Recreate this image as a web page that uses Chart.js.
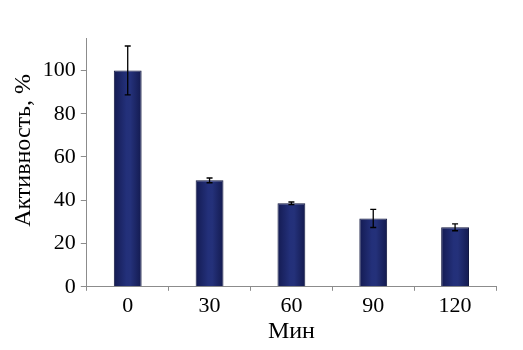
<!DOCTYPE html>
<html>
<head>
<meta charset="utf-8">
<script src="https://cdn.jsdelivr.net/npm/chart.js@4"></script>
<style>
  body { margin: 0; background: #fff; }
  #wrap { width: 523px; height: 350px; }
</style>
</head>
<body>
<div id="wrap"><canvas id="myChart"></canvas></div>
<script>
const minutes = ['0', '30', '60', '90', '120'];
const activity = [100, 49.2, 38.6, 31.6, 27.5];
const errors = [11.3, 1.1, 0.6, 4.2, 1.6];
const yTicks = [0, 20, 40, 60, 80, 100];

const BAR_PCT = 0.34;
const FONT = "'Liberation Serif', 'Times New Roman', serif";

// error bars drawn on top of the bars
const errorBars = {
    id: 'errorBars',
    afterDatasetsDraw(chart) {
        const ctx = chart.ctx;
        const y = chart.scales.y;
        const meta = chart.getDatasetMeta(0);
        ctx.save();
        ctx.strokeStyle = '#000';
        ctx.lineWidth = 1.3;
        meta.data.forEach((bar, i) => {
            const top = y.getPixelForValue(activity[i] + errors[i]);
            const bot = y.getPixelForValue(activity[i] - errors[i]);
            ctx.beginPath();
            ctx.moveTo(bar.x, top);
            ctx.lineTo(bar.x, bot);
            ctx.moveTo(bar.x - 3, top);
            ctx.lineTo(bar.x + 3, top);
            ctx.moveTo(bar.x - 3, bot);
            ctx.lineTo(bar.x + 3, bot);
            ctx.stroke();
        });
        ctx.restore();
    }
};

function barFill(context) {
    const chart = context.chart;
    const x = chart.scales.x;
    if (!x || !x.width) return '#1f2969';
    const cx = x.getPixelForValue(context.dataIndex);
    const w = x.width / minutes.length * BAR_PCT;
    const g = chart.ctx.createLinearGradient(cx - w / 2, 0, cx + w / 2, 0);
    g.addColorStop(0, '#141b52');
    g.addColorStop(0.45, '#23307a');
    g.addColorStop(0.6, '#24317a');
    g.addColorStop(1, '#131a4f');
    return g;
}

function draw() {
    const ctx = document.getElementById('myChart');
    new Chart(ctx, {
        type: 'bar',
        data: {
            labels: minutes,
            datasets: [{
                data: activity,
                backgroundColor: barFill,
                borderColor: '#10163f',
                borderWidth: 1,
                categoryPercentage: 1,
                barPercentage: BAR_PCT
            }]
        },
        plugins: [errorBars],
        options: {
            responsive: true,
            maintainAspectRatio: false,
            animation: false,
            layout: { padding: { left: 4, right: 27, top: 38, bottom: 4 } },
            plugins: {
                legend: { display: false },
                tooltip: { enabled: false }
            },
            scales: {
                x: {
                    offset: true,
                    grid: {
                        offset: true,
                        drawOnChartArea: false,
                        tickLength: 4,
                        color: '#8c8c8c'
                    },
                    border: { color: '#8c8c8c', width: 1 },
                    ticks: {
                        padding: 2,
                        color: '#000',
                        font: { family: FONT, size: 22 }
                    },
                    title: {
                        display: true,
                        text: 'Мин',
                        color: '#000',
                        padding: { top: -4, bottom: 0 },
                        font: { family: FONT, size: 24 }
                    }
                },
                y: {
                    min: 0,
                    max: 115,
                    grid: {
                        drawOnChartArea: false,
                        tickLength: 6,
                        color: '#8c8c8c'
                    },
                    border: { color: '#8c8c8c', width: 1 },
                    afterBuildTicks: (axis) => {
                        axis.ticks = yTicks.map(v => ({ value: v }));
                    },
                    ticks: {
                        padding: 5,
                        color: '#000',
                        font: { family: FONT, size: 22 }
                    },
                    title: {
                        display: true,
                        text: '\u00a0\u00a0\u00a0\u00a0Активность, %',
                        color: '#000',
                        padding: { top: 5, bottom: 0 },
                        font: { family: FONT, size: 24 }
                    }
                }
            }
        }
    });
}

document.fonts.load("22px 'Liberation Serif'").then(draw, draw);
</script>
</body>
</html>
